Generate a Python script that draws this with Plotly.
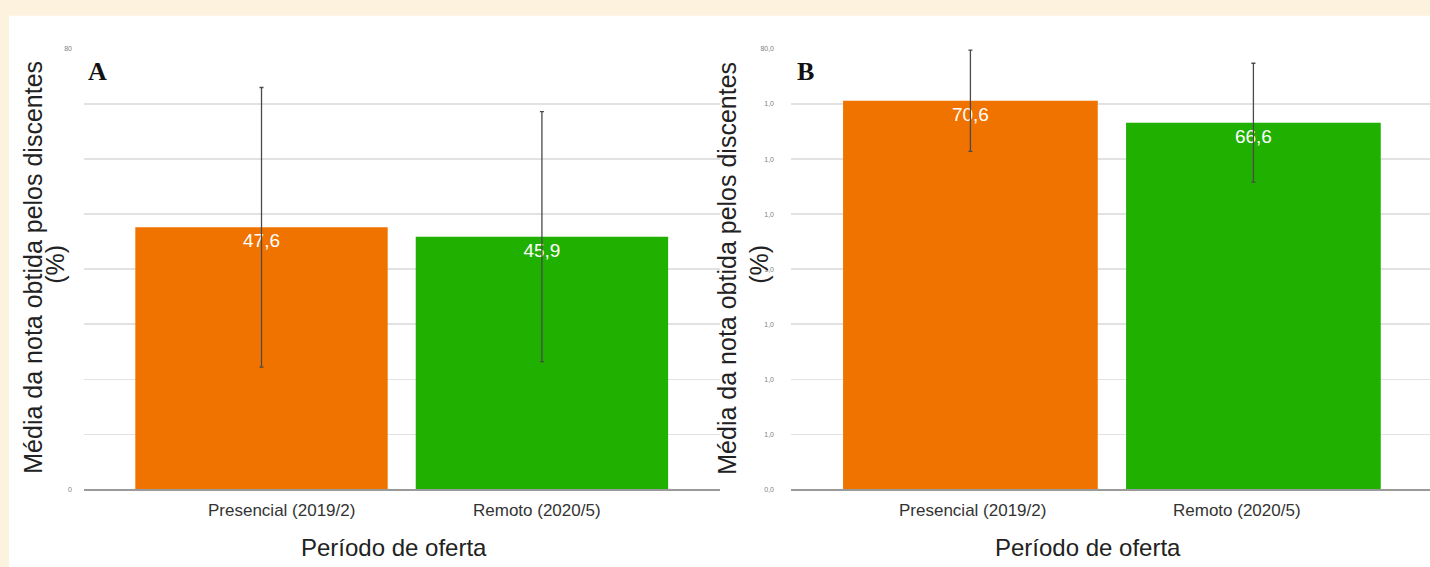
import plotly.graph_objects as go

# ---------------- data ----------------
categories = ["Presencial (2019/2)", "Remoto (2020/5)"]
means_a = [47.6, 45.9]
err_a = [25.4, 22.7]
means_b = [70.6, 66.6]
err_b = [9.2, 10.8]
value_text_a = ["47,6", "45,9"]
value_text_b = ["70,6", "66,6"]
ytick_vals = [0, 10, 20, 30, 40, 50, 60, 70, 80]
ytick_text_a = ["0", "", "", "", "", "", "", "", "80"]
ytick_text_b = ["0,0", "1,0", "1,0", "1,0", "1,0", "1,0", "1,0", "1,0", "80,0"]
bar_colors = ["#f07300", "#20b000"]
y_title = "Média da nota obtida pelos discentes"
y_title2 = "(%)"
x_title = "Período de oferta"
panel_labels = ["A", "B"]

# ---------------- layout helpers ----------------
W, H = 1430, 567
def px(x):
    return x / W
def py(y):
    return 1 - y / H

y_dom = [py(491.5), py(45.5)]
xs = list(range(len(categories)))

fig = go.Figure()

def add_panel(means, errs, texts, xa, ya):
    fig.add_trace(go.Bar(
        x=xs, y=means, width=0.9,
        marker=dict(color=bar_colors, line=dict(width=0)),
        text=texts, textposition="inside", insidetextanchor="end",
        textfont=dict(color="white", size=19, family="Liberation Sans, Arial"),
        textangle=0,
        error_y=dict(type="data", array=errs, visible=True, color="#4a4a4a",
                     thickness=1.3, width=2),
        xaxis=xa, yaxis=ya, showlegend=False, hoverinfo="skip",
    ))

add_panel(means_a, err_a, value_text_a, "x", "y")
add_panel(means_b, err_b, value_text_b, "x2", "y2")

common_y = dict(range=[0, 80], tickvals=ytick_vals, showgrid=True,
                gridcolor="#e2e2e2", gridwidth=1.5, zeroline=False,
                tickfont=dict(size=7, color="#808080", family="Liberation Sans, Arial"),
                ticks="", showline=False, fixedrange=True)
common_x = dict(showticklabels=False, showgrid=False, zeroline=False,
                showline=True, linecolor="#9a9a9a", linewidth=1.5, ticks="")

fig.update_layout(
    width=W, height=H,
    margin=dict(l=0, r=0, t=0, b=0),
    paper_bgcolor="#fdf2de",
    plot_bgcolor="white",
    xaxis=dict(domain=[px(84), px(720)], range=[-0.633, 1.635], anchor="y", **common_x),
    yaxis=dict(domain=y_dom, anchor="x", ticktext=ytick_text_a,
               ticklabelstandoff=11, **common_y),
    xaxis2=dict(domain=[px(791), px(1430)], range=[-0.634, 1.624], anchor="y2", **common_x),
    yaxis2=dict(domain=y_dom, anchor="x2", ticktext=ytick_text_b,
                ticklabelstandoff=16, **common_y),
    bargap=0.1,
    shapes=[dict(type="rect", xref="paper", yref="paper",
                 x0=px(9), x1=1.05, y0=-0.05, y1=py(12),
                 fillcolor="white", line=dict(width=0), layer="below")],
)

font_main = "Liberation Sans, Arial"
ann = []
# y titles
for cx1, cx2 in [(33, 55), (727, 759)]:
    ann.append(dict(text=y_title, x=px(cx1), y=py(267), xref="paper", yref="paper",
                    textangle=-90, showarrow=False, xanchor="center", yanchor="middle",
                    font=dict(size=25, color="#222", family=font_main)))
    ann.append(dict(text=y_title2, x=px(cx2), y=py(264), xref="paper", yref="paper",
                    textangle=-90, showarrow=False, xanchor="center", yanchor="middle",
                    font=dict(size=25, color="#222", family=font_main)))
# x titles
for cx in [394, 1088]:
    ann.append(dict(text=x_title, x=px(cx), y=py(550), xref="paper", yref="paper",
                    showarrow=False, xanchor="center", yanchor="middle",
                    font=dict(size=24, color="#222", family=font_main)))
# category labels
label_shift = {"x": [20, -5], "x2": [2, -16]}
for xa in ["x", "x2"]:
    for i, c in enumerate(categories):
        ann.append(dict(text=c, x=xs[i], xref=xa, y=py(513), yref="paper",
                        xshift=label_shift[xa][i],
                        showarrow=False, xanchor="center", yanchor="middle",
                        font=dict(size=17, color="#333", family=font_main)))
# panel letters
for lab, cx in zip(panel_labels, [97, 805]):
    ann.append(dict(text="<b>%s</b>" % lab, x=px(cx), y=py(68), xref="paper", yref="paper",
                    showarrow=False, xanchor="center", yanchor="middle",
                    font=dict(size=26, color="#111", family="Liberation Serif, Times New Roman")))
fig.update_layout(annotations=ann)

fig.write_html("out.html",
               config={"displayModeBar": False, "staticPlot": True},
               post_script="document.body.style.margin='0';document.body.style.overflow='hidden';")
